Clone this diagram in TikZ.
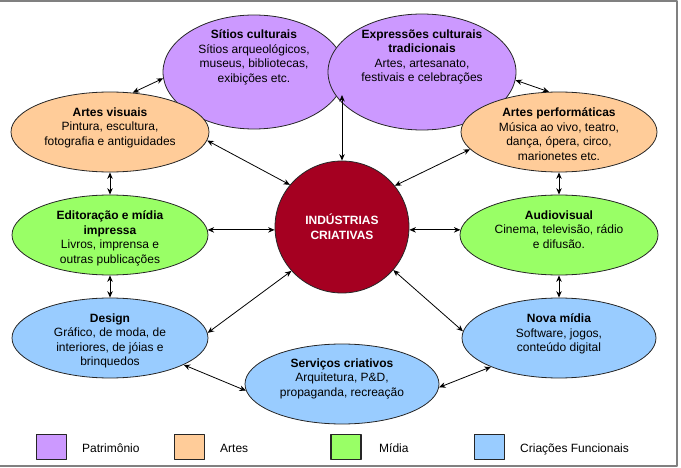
\documentclass[tikz,border=0pt]{standalone}
\usepackage{fontspec}
\setmainfont{Liberation Sans}
\usetikzlibrary{arrows.meta,shapes.geometric}

\definecolor{patrimonio}{HTML}{CC99FF}
\definecolor{artes}{HTML}{FFCC99}
\definecolor{midia}{HTML}{99FF66}
\definecolor{funcional}{HTML}{99CCFF}
\definecolor{industria}{HTML}{A50021}
\definecolor{moldura}{HTML}{808080}

\tikzset{
  campo/.style={ellipse, draw=black!85, line width=0.8pt, inner sep=0pt},
  texto/.style={anchor=north, inner sep=0pt, align=center, font=\fontsize{12}{14.5}\selectfont},
  seta/.style={<->, >={Stealth[length=6.5pt,width=5.5pt]}, line width=0.8pt},
  chave/.style={draw=black!85, line width=1.5pt, minimum width=30pt, minimum height=25pt, inner sep=0pt},
  legenda/.style={anchor=base west, inner sep=0pt, font=\fontsize{12}{14.5}\selectfont},
}

\begin{document}
\begin{tikzpicture}[x=1pt, y=-1pt, line join=round]

  %% ════ moldura ════
  \draw[moldura, line width=2pt] (0,1.5) -- (676.5,1.5) -- (676.5,465.5) -- (0,465.5);

  %% ════ elipses ════
  \node[campo, fill=patrimonio, minimum width=182pt, minimum height=114pt] (sitios) at (254,72) {};
  \node[campo, fill=patrimonio, minimum width=188pt, minimum height=116pt] (expr) at (422,72) {};
  \node[campo, fill=artes, minimum width=198pt, minimum height=80pt] (artv) at (110,132) {};
  \node[campo, fill=artes, minimum width=196pt, minimum height=80pt] (artp) at (559,132) {};
  \node[campo, fill=midia, minimum width=196pt, minimum height=80pt] (edit) at (110,235) {};
  \node[campo, fill=midia, minimum width=198pt, minimum height=80pt] (audio) at (559,235) {};
  \node[campo, fill=funcional, minimum width=196pt, minimum height=80pt] (design) at (110,338) {};
  \node[campo, fill=funcional, minimum width=194pt, minimum height=80pt] (nova) at (559,338) {};
  \node[campo, fill=funcional, minimum width=194pt, minimum height=80pt] (serv) at (342,384) {};
  \node[campo, fill=industria, minimum width=134pt, minimum height=132pt, align=center,
        text=white, font=\fontsize{12}{15}\selectfont\bfseries] (ic) at (342,227) {INDÚSTRIAS\\CRIATIVAS};

  %% ════ textos ════
  \node[texto] (sitios-t) at ([yshift=-15pt]sitios.north) {\textbf{Sítios culturais}\\Sítios arqueológicos,\\museus, bibliotecas,\\exibições etc.};
  \node[texto] (expr-t) at ([yshift=-16pt]expr.north) {\textbf{Expressões culturais}\\\textbf{tradicionais}\\Artes, artesanato,\\festivais e celebrações};
  \node[texto] (artv-t) at ([yshift=-16pt]artv.north) {\textbf{Artes visuais}\\Pintura, escultura,\\fotografia e antiguidades};
  \node[texto] (artp-t) at ([yshift=-16pt]artp.north) {\textbf{Artes performáticas}\\Música ao vivo, teatro,\\dança, ópera, circo,\\marionetes etc.};
  \node[texto] (edit-t) at ([yshift=-16pt]edit.north) {\textbf{Editoração e mídia}\\\textbf{impressa}\\Livros, imprensa e\\outras publicações};
  \node[texto] (audio-t) at ([yshift=-16pt]audio.north) {\textbf{Audiovisual}\\Cinema, televisão, rádio\\e difusão.};
  \node[texto] (design-t) at ([yshift=-16pt]design.north) {\textbf{Design}\\Gráfico, de moda, de\\interiores, de jóias e\\brinquedos};
  \node[texto] (nova-t) at ([yshift=-16pt]nova.north) {\textbf{Nova mídia}\\Software, jogos,\\conteúdo digital};
  \node[texto] (serv-t) at ([yshift=-15pt]serv.north) {\textbf{Serviços criativos}\\Arquitetura, P\&D,\\propaganda, recreação};

  %% ════ setas ════
  \coordinate (exprtip) at (342,95);
  \draw[seta] (sitios.184) -- (artv.60);
  \draw[seta] (expr.-5) -- (artp.104);
  \draw[seta] (ic.north) -- (exprtip);
  \draw[seta] (artv.-5) -- (ic.141);
  \draw[seta] (artp.191) -- (ic.38);
  \draw[seta] (edit.3) -- (edit.3 -| ic.west);
  \draw[seta] (audio.177) -- (audio.177 -| ic.east);
  \draw[seta] (design.3) -- (ic.221);
  \draw[seta] (nova.176) -- (ic.320);
  \draw[seta] (artv) -- (edit);
  \draw[seta] (edit) -- (design);
  \draw[seta] (artp) -- (audio);
  \draw[seta] (audio) -- (nova);
  \draw[seta] (design.-20) -- (serv.184);
  \draw[seta] (serv.-2) -- (nova.203);

  %% ════ legenda ════
  \node[chave, fill=patrimonio] (k1) at (51.5,447) {};
  \node[chave, fill=artes] (k2) at (189.5,447) {};
  \node[chave, fill=midia] (k3) at (346,447) {};
  \node[chave, fill=funcional] (k4) at (489.5,447) {};
  \node[legenda] (l1) at (82,452) {Patrimônio};
  \node[legenda] (l2) at (220,452) {Artes};
  \node[legenda] (l3) at (379,452) {Mídia};
  \node[legenda] (l4) at (520,452) {Criações Funcionais};

  % canvas fixo
  \pgfresetboundingbox
  \path[use as bounding box] (0,0) rectangle (681,468);
\end{tikzpicture}
\end{document}
